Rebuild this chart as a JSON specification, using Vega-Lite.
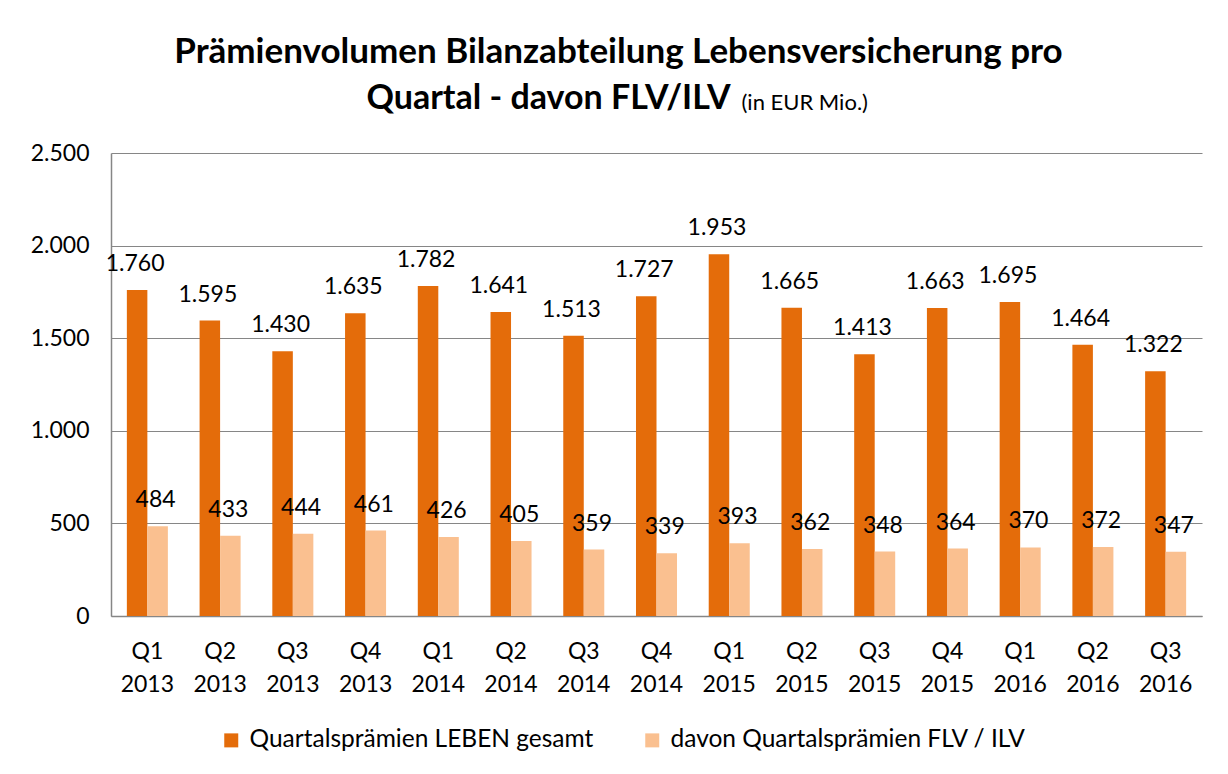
{
  "$schema": "https://vega.github.io/schema/vega-lite/v6.json",
  "autosize": {"type": "none"},
  "padding": {"left": 111, "top": 153, "right": 26, "bottom": 158},
  "width": 1091,
  "height": 463,
  "background": "white",
  "title": {
    "text": "Prämienvolumen Bilanzabteilung Lebensversicherung pro",
    "font": "Lato",
    "fontSize": 35,
    "fontWeight": "bold",
    "color": "#000000",
    "anchor": "middle",
    "dx": -38,
    "dy": 9,
    "offset": 20
  },
  "config": {
    "locale": {"number": {"decimal": ",", "thousands": ".", "grouping": [3], "currency": ["", " €"]}},
    "view": {"stroke": null},
    "font": "Lato"
  },
  "data": {
    "values": [
      {"q": "Q1 2013", "serie": "Quartalsprämien LEBEN gesamt", "wert": 1760},
      {"q": "Q2 2013", "serie": "Quartalsprämien LEBEN gesamt", "wert": 1595},
      {"q": "Q3 2013", "serie": "Quartalsprämien LEBEN gesamt", "wert": 1430},
      {"q": "Q4 2013", "serie": "Quartalsprämien LEBEN gesamt", "wert": 1635},
      {"q": "Q1 2014", "serie": "Quartalsprämien LEBEN gesamt", "wert": 1782},
      {"q": "Q2 2014", "serie": "Quartalsprämien LEBEN gesamt", "wert": 1641},
      {"q": "Q3 2014", "serie": "Quartalsprämien LEBEN gesamt", "wert": 1513},
      {"q": "Q4 2014", "serie": "Quartalsprämien LEBEN gesamt", "wert": 1727},
      {"q": "Q1 2015", "serie": "Quartalsprämien LEBEN gesamt", "wert": 1953},
      {"q": "Q2 2015", "serie": "Quartalsprämien LEBEN gesamt", "wert": 1665},
      {"q": "Q3 2015", "serie": "Quartalsprämien LEBEN gesamt", "wert": 1413},
      {"q": "Q4 2015", "serie": "Quartalsprämien LEBEN gesamt", "wert": 1663},
      {"q": "Q1 2016", "serie": "Quartalsprämien LEBEN gesamt", "wert": 1695},
      {"q": "Q2 2016", "serie": "Quartalsprämien LEBEN gesamt", "wert": 1464},
      {"q": "Q3 2016", "serie": "Quartalsprämien LEBEN gesamt", "wert": 1322},
      {"q": "Q1 2013", "serie": "davon Quartalsprämien FLV / ILV", "wert": 484},
      {"q": "Q2 2013", "serie": "davon Quartalsprämien FLV / ILV", "wert": 433},
      {"q": "Q3 2013", "serie": "davon Quartalsprämien FLV / ILV", "wert": 444},
      {"q": "Q4 2013", "serie": "davon Quartalsprämien FLV / ILV", "wert": 461},
      {"q": "Q1 2014", "serie": "davon Quartalsprämien FLV / ILV", "wert": 426},
      {"q": "Q2 2014", "serie": "davon Quartalsprämien FLV / ILV", "wert": 405},
      {"q": "Q3 2014", "serie": "davon Quartalsprämien FLV / ILV", "wert": 359},
      {"q": "Q4 2014", "serie": "davon Quartalsprämien FLV / ILV", "wert": 339},
      {"q": "Q1 2015", "serie": "davon Quartalsprämien FLV / ILV", "wert": 393},
      {"q": "Q2 2015", "serie": "davon Quartalsprämien FLV / ILV", "wert": 362},
      {"q": "Q3 2015", "serie": "davon Quartalsprämien FLV / ILV", "wert": 348},
      {"q": "Q4 2015", "serie": "davon Quartalsprämien FLV / ILV", "wert": 364},
      {"q": "Q1 2016", "serie": "davon Quartalsprämien FLV / ILV", "wert": 370},
      {"q": "Q2 2016", "serie": "davon Quartalsprämien FLV / ILV", "wert": 372},
      {"q": "Q3 2016", "serie": "davon Quartalsprämien FLV / ILV", "wert": 347}
    ]
  },
  "encoding": {
    "x": {
      "field": "q",
      "type": "nominal",
      "sort": null,
      "scale": {"paddingInner": 0.436, "paddingOuter": 0.218},
      "axis": {
        "title": "(in EUR Mio.)",
        "titleAngle": 0,
        "titleAlign": "left",
        "titleBaseline": "alphabetic",
        "titleX": 630,
        "titleY": -507,
        "titleFont": "Lato",
        "titleFontSize": 22,
        "titleFontWeight": "normal",
        "titleColor": "#000000",
        "labelAngle": 0,
        "labelExpr": "split(datum.value, ' ')",
        "labelFont": "Lato",
        "labelFontSize": 23,
        "labelLineHeight": 33,
        "labelColor": "#000000",
        "labelPadding": 24,
        "labelBaseline": "top",
        "ticks": false,
        "domainColor": "#868686",
        "domainWidth": 1.5
      }
    },
    "xOffset": {
      "field": "serie",
      "type": "nominal",
      "sort": ["Quartalsprämien LEBEN gesamt", "davon Quartalsprämien FLV / ILV"],
      "scale": {"paddingInner": 0, "paddingOuter": 0}
    },
    "y": {
      "field": "wert",
      "type": "quantitative",
      "scale": {"domain": [0, 2500], "nice": false},
      "axis": {
        "title": "Quartal - davon FLV/ILV",
        "titleAngle": 0,
        "titleAlign": "left",
        "titleBaseline": "alphabetic",
        "titleX": 255,
        "titleY": -45,
        "titleFont": "Lato",
        "titleFontSize": 34,
        "titleFontWeight": "bold",
        "titleColor": "#000000",
        "values": [0, 500, 1000, 1500, 2000, 2500],
        "format": ",d",
        "labelFont": "Lato",
        "labelFontSize": 23,
        "labelColor": "#000000",
        "labelPadding": 22,
        "ticks": false,
        "domainColor": "#868686",
        "domainWidth": 1.5,
        "gridColor": "#868686",
        "gridWidth": 1
      }
    }
  },
  "layer": [
    {
      "mark": {"type": "bar"},
      "encoding": {
        "color": {
          "field": "serie",
          "type": "nominal",
          "scale": {
            "domain": ["Quartalsprämien LEBEN gesamt", "davon Quartalsprämien FLV / ILV"],
            "range": ["#E46C0A", "#FAC090"]
          },
          "legend": {
            "title": null,
            "orient": "none",
            "legendX": 108,
            "legendY": 575,
            "direction": "horizontal",
            "symbolType": "square",
            "symbolSize": 196,
            "symbolStrokeWidth": 0,
            "labelFont": "Lato",
            "labelFontSize": 24.5,
            "labelColor": "#000000",
            "labelOffset": 6,
            "labelLimit": 0,
            "columnPadding": 46,
            "padding": 0
          }
        }
      }
    },
    {
      "mark": {"type": "text", "baseline": "middle", "dy": -26, "dx": -2, "font": "Lato", "fontSize": 23, "color": "#000000"},
      "encoding": {
        "text": {"field": "wert", "type": "quantitative", "format": ",d"}
      }
    }
  ]
}
